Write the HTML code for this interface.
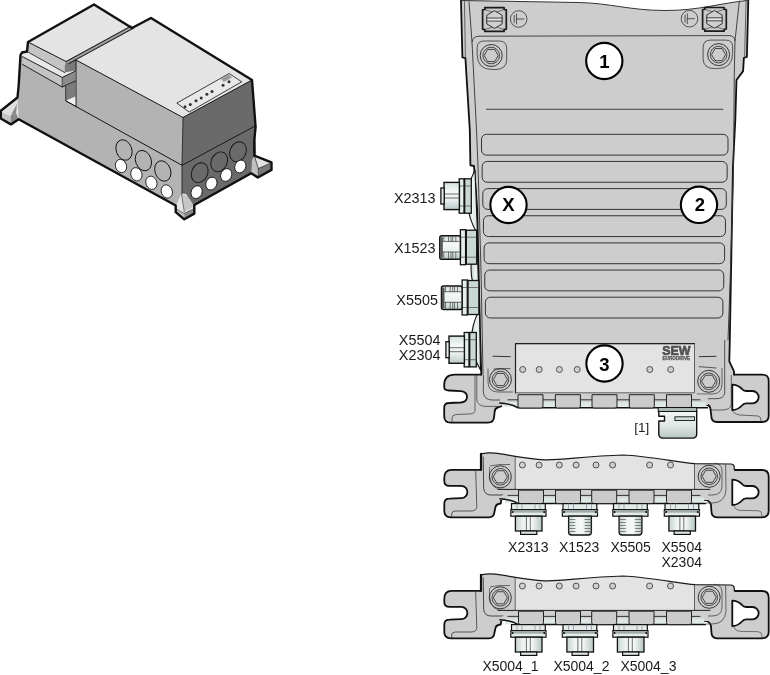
<!DOCTYPE html>
<html><head><meta charset="utf-8"><style>
html,body{margin:0;padding:0;background:#fff;width:770px;height:675px;overflow:hidden;}
svg{display:block;will-change:transform;}
text{font-family:"Liberation Sans",sans-serif;}
</style></head><body>
<svg width="770" height="675" viewBox="0 0 770 675">
<defs><linearGradient id="gcyl" x1="0" y1="0" x2="0" y2="1"><stop offset="0" stop-color="#d3e0dd"/><stop offset="0.35" stop-color="#f4f8f7"/><stop offset="0.65" stop-color="#e9f0ef"/><stop offset="1" stop-color="#b8cac7"/></linearGradient><linearGradient id="gbody" x1="0" y1="0" x2="1" y2="0"><stop offset="0" stop-color="#c5d3d0"/><stop offset="0.3" stop-color="#eef4f3"/><stop offset="0.6" stop-color="#f6f9f8"/><stop offset="1" stop-color="#b5c6c3"/></linearGradient><linearGradient id="glens" x1="0" y1="0" x2="1" y2="0"><stop offset="0" stop-color="#b9cbc8"/><stop offset="0.5" stop-color="#eef4f3"/><stop offset="1" stop-color="#d5e1de"/></linearGradient><linearGradient id="gcon" x1="0" y1="0" x2="0" y2="1"><stop offset="0" stop-color="#f2f6f5"/><stop offset="0.5" stop-color="#e2eae8"/><stop offset="1" stop-color="#b9c8c5"/></linearGradient></defs>
<polygon points="21,52 66,76 66,101 76,107 182,165 182,205 176,206 19,120 16,112" fill="#b3b3b3" stroke="none" stroke-width="1" stroke-linejoin="round" />
<polygon points="182,165 255,126 256,156 252,173 194,205 182,205" fill="#6a6a6a" stroke="none" stroke-width="1" stroke-linejoin="round" />
<polygon points="76,60 183,117.5 182,165 76,107" fill="#b3b3b3" stroke="none" stroke-width="1" stroke-linejoin="round" />
<polygon points="183,117.5 252,80 255,126 182,165" fill="#6a6a6a" stroke="none" stroke-width="1" stroke-linejoin="round" />
<polygon points="76,60 151,18 252,80 183,117.5" fill="#e4e4e4" stroke="none" stroke-width="1" stroke-linejoin="round" />
<polygon points="28,42 94,4.5 132,28 66,61.5" fill="#e4e4e4" stroke="none" stroke-width="1" stroke-linejoin="round" />
<polygon points="28,42 66,61.5 64.6,66 64.6,72.5 27,51.5" fill="#c4c4c4" stroke="none" stroke-width="1" stroke-linejoin="round" />
<polygon points="20.5,55 27,51.5 64.6,72.5 75.5,70 62.2,77.4 22.5,56.7" fill="#e8e8e8" stroke="none" stroke-width="1" stroke-linejoin="round" />
<polygon points="22.5,56.7 62.2,77.4 62.2,87 22.5,64.4" fill="#c4c4c4" stroke="none" stroke-width="1" stroke-linejoin="round" />
<polygon points="62.2,77.4 75.5,71 75.5,81 62.2,87" fill="#8a8a8a" stroke="none" stroke-width="1" stroke-linejoin="round" />
<polygon points="64.6,66 66,61.5 76,56 76,70.5 64.6,72.5" fill="#7a7a7a" stroke="none" stroke-width="1" stroke-linejoin="round" />
<polygon points="65.7,86 75.5,81 75.5,96.4 65.7,101" fill="#7c7c7c" stroke="none" stroke-width="1" stroke-linejoin="round" />
<polygon points="65.7,101 75.5,96.4 75.5,106" fill="#f0f0f0" stroke="none" stroke-width="1" stroke-linejoin="round" />
<polyline points="28,42 66,61.5" fill="none" stroke="#111" stroke-width="1" stroke-linejoin="round" stroke-linecap="round" />
<polyline points="22.5,56.7 62.2,77.4 75.5,71" fill="none" stroke="#111" stroke-width="0.9" stroke-linejoin="round" stroke-linecap="round" />
<polyline points="22.5,64.4 62.2,87 75.5,81" fill="none" stroke="#111" stroke-width="0.9" stroke-linejoin="round" stroke-linecap="round" />
<polyline points="62.2,77.4 62.2,87" fill="none" stroke="#111" stroke-width="0.6" stroke-linejoin="round" stroke-linecap="round" />
<polyline points="27,51.5 64.6,72.5" fill="none" stroke="#111" stroke-width="0.8" stroke-linejoin="round" stroke-linecap="round" />
<polyline points="65.7,86 65.7,101 75.5,106" fill="none" stroke="#111" stroke-width="0.7" stroke-linejoin="round" stroke-linecap="round" />
<polygon points="66,61.5 131,26 134,28 68.5,63.8" fill="#777" stroke="none" stroke-width="1" stroke-linejoin="round" />
<polyline points="66,61.5 131,26" fill="none" stroke="#111" stroke-width="0.9" stroke-linejoin="round" stroke-linecap="round" />
<polyline points="67.3,62.7 132.5,27" fill="none" stroke="#e0e0e0" stroke-width="0.6" stroke-linejoin="round" stroke-linecap="round" />
<polyline points="68.5,63.8 134,28" fill="none" stroke="#111" stroke-width="0.9" stroke-linejoin="round" stroke-linecap="round" />
<polyline points="76,60 76,107" fill="none" stroke="#111" stroke-width="0.9" stroke-linejoin="round" stroke-linecap="round" />
<polyline points="76,60 183,117.5 252,80" fill="none" stroke="#111" stroke-width="1" stroke-linejoin="round" stroke-linecap="round" />
<polyline points="183,117.5 182,165 182,205" fill="none" stroke="#111" stroke-width="0.8" stroke-linejoin="round" stroke-linecap="round" />
<polyline points="66,101 182,165.3 255,126" fill="none" stroke="#111" stroke-width="1" stroke-linejoin="round" stroke-linecap="round" />
<polygon points="176.8,103.1 229.2,73.5 241.7,81.8 189.2,112" fill="#e8e8e8" stroke="#111" stroke-width="0.8" stroke-linejoin="round" />
<circle cx="185" cy="106.8" r="1.5" fill="#333"/>
<circle cx="190.3" cy="104.5" r="1.5" fill="#333"/>
<circle cx="196" cy="100.7" r="1.5" fill="#333"/>
<circle cx="201.2" cy="97.9" r="1.5" fill="#333"/>
<circle cx="206.9" cy="94.3" r="1.5" fill="#333"/>
<circle cx="212" cy="91.5" r="1.5" fill="#333"/>
<circle cx="223" cy="85.2" r="1.5" fill="#333"/>
<circle cx="229" cy="81.8" r="1.5" fill="#333"/>
<polygon points="221,79 229,74.5 232,77.5 224,82" fill="#9a9a9a" stroke="none" stroke-width="1" stroke-linejoin="round" />
<ellipse cx="124" cy="150" rx="7.8" ry="10.5" transform="rotate(-20 124 150)" fill="#b3b3b3" stroke="#111" stroke-width="0.9"/>
<ellipse cx="143.4" cy="160.6" rx="7.8" ry="10.5" transform="rotate(-20 143.4 160.6)" fill="#b3b3b3" stroke="#111" stroke-width="0.9"/>
<ellipse cx="162.8" cy="171" rx="7.8" ry="10.5" transform="rotate(-20 162.8 171)" fill="#b3b3b3" stroke="#111" stroke-width="0.9"/>
<ellipse cx="121" cy="166" rx="5.5" ry="6.8" transform="rotate(-20 121 166)" fill="#fff" stroke="#111" stroke-width="0.8"/>
<ellipse cx="136.4" cy="174.3" rx="5.5" ry="6.8" transform="rotate(-20 136.4 174.3)" fill="#fff" stroke="#111" stroke-width="0.8"/>
<ellipse cx="151.4" cy="182.8" rx="5.5" ry="6.8" transform="rotate(-20 151.4 182.8)" fill="#fff" stroke="#111" stroke-width="0.8"/>
<ellipse cx="166.8" cy="191.5" rx="5.5" ry="6.8" transform="rotate(-20 166.8 191.5)" fill="#fff" stroke="#111" stroke-width="0.8"/>
<ellipse cx="199.7" cy="172.7" rx="8" ry="10.3" transform="rotate(25 199.7 172.7)" fill="#6a6a6a" stroke="#111" stroke-width="0.9"/>
<ellipse cx="219.2" cy="161.8" rx="8" ry="10.3" transform="rotate(25 219.2 161.8)" fill="#6a6a6a" stroke="#111" stroke-width="0.9"/>
<ellipse cx="238" cy="151.7" rx="8" ry="10.3" transform="rotate(25 238 151.7)" fill="#6a6a6a" stroke="#111" stroke-width="0.9"/>
<ellipse cx="196.6" cy="192.2" rx="5.4" ry="6.6" transform="rotate(25 196.6 192.2)" fill="#fff" stroke="#111" stroke-width="0.8"/>
<ellipse cx="211.4" cy="183.6" rx="5.4" ry="6.6" transform="rotate(25 211.4 183.6)" fill="#fff" stroke="#111" stroke-width="0.8"/>
<ellipse cx="226.2" cy="175" rx="5.4" ry="6.6" transform="rotate(25 226.2 175)" fill="#fff" stroke="#111" stroke-width="0.8"/>
<ellipse cx="240.3" cy="166.5" rx="5.4" ry="6.6" transform="rotate(25 240.3 166.5)" fill="#fff" stroke="#111" stroke-width="0.8"/>
<polygon points="17.5,97.5 0.8,110.7 0.8,118.5 10.9,124.4 18.7,119.3" fill="#e0e0e0" stroke="none" stroke-width="1" stroke-linejoin="round" />
<polygon points="2,112.3 10.5,116.2 10.9,124.4 0.8,118.5" fill="#c4c4c4" stroke="none" stroke-width="1" stroke-linejoin="round" />
<polygon points="10.5,116.2 16,113 18.7,119.3 10.9,124.4" fill="#888" stroke="none" stroke-width="1" stroke-linejoin="round" />
<polygon points="17,103.7 10.5,116.2 16,113" fill="#888" stroke="none" stroke-width="1" stroke-linejoin="round" />
<polygon points="175.7,206.4 181.4,193.6 186,194 194.3,206.4 194.3,213.6 184.3,219.3 175.7,212.1" fill="#e6e6e6" stroke="none" stroke-width="1" stroke-linejoin="round" />
<polygon points="181.4,193.6 184.3,212.1 194.3,206.4 187,196" fill="#c6c6c6" stroke="none" stroke-width="1" stroke-linejoin="round" />
<polyline points="181.4,193.6 184.3,212.1" fill="none" stroke="#333" stroke-width="0.6" stroke-linejoin="round" stroke-linecap="round" />
<polygon points="175.7,208.5 184.3,213.5 184.3,219.3 175.7,212.1" fill="#bdbdbd" stroke="none" stroke-width="1" stroke-linejoin="round" />
<polygon points="184.3,213.5 194.3,208.5 194.3,213.6 184.3,219.3" fill="#8a8a8a" stroke="none" stroke-width="1" stroke-linejoin="round" />
<polyline points="175.7,208.5 184.3,213.5 194.3,208.5" fill="none" stroke="#333" stroke-width="0.6" stroke-linejoin="round" stroke-linecap="round" />
<polygon points="254.3,155.7 271.5,162.3 271.5,169.9 257.8,177.5 251.2,173.2 252,160" fill="#c0c0c0" stroke="none" stroke-width="1" stroke-linejoin="round" />
<polygon points="254.5,156.2 269.5,163.5 258.3,168.5" fill="#e2e2e2" stroke="none" stroke-width="1" stroke-linejoin="round" />
<polygon points="258.3,168.5 270,163.5 271.5,169.5 258.3,176.8" fill="#7a7a7a" stroke="none" stroke-width="1" stroke-linejoin="round" />
<polyline points="254.5,156.2 258.3,168.5 270,163.5" fill="none" stroke="#222" stroke-width="0.7" stroke-linejoin="round" stroke-linecap="round" />
<polyline points="258.3,168.5 258.3,177" fill="none" stroke="#222" stroke-width="0.6" stroke-linejoin="round" stroke-linecap="round" />
<polyline points="94,4.5 132,28 151,18 252,80 255.6,127 254.3,140 254.3,155.7 271.5,162.3 271.5,169.9 257.8,177.5 251.2,173.2 194.3,205 194.3,213.6 184.3,219.3 175.7,212.1 175.7,205.5 18.7,119.3 10.9,124.4 0.8,118.5 0.8,110.7 17.5,97.5 18.7,85 20.5,55 22,52.5 27,51.5 28,42 94,4.5" fill="none" stroke="#111" stroke-width="2.4" stroke-linejoin="round" stroke-linecap="round" />
<path d="M461,0.5 L462.4,57.4 L465.4,58.1 L469.8,130 L470.4,165.3 L474,166 L477.2,210 L479.9,330 L481.3,374.6 L451.5,374.6 L444.2,382 L444.2,386.8 L448.2,390.5 L463,391.7 L467,396.8 L463,402.3 L448.2,403 L444.2,408 L444.2,417.8 L450.7,422.7 L489.8,422.7 L493.9,417.8 L494.7,411.3 L498,408 L501.2,405.6 L708.7,404 L710,406.7 L711.3,417.3 L716,422 L764,422 L768.7,417.3 L768.7,380 L764,374.7 L734,374.7 L734,371.3 L729.3,361.3 L729.8,340 L733,166 L735.3,120 L736.5,80 L743.1,71.1 L743.9,57.8 L746.9,57 L748.3,0.3 C720,3 700,10.5 665,10.5 C630,10.5 610,3 578,2.5 L461,0.5 Z" fill="#cdcdcd" stroke="none" stroke-width="1" stroke-linejoin="round" />
<polyline points="461,0.5 462.4,57.4 465.4,58.1 469.8,130 470.4,165.3 474,166 477.2,210 479.9,330 481.3,374.6" fill="none" stroke="#111" stroke-width="1.8" stroke-linejoin="round" stroke-linecap="round" />
<polyline points="748.3,0.3 746.9,57 743.9,57.8 743.1,71.1 736.5,80 735.3,120 733,166 729.8,340 729.3,361.3 734,371.3 734,374.7" fill="none" stroke="#111" stroke-width="1.8" stroke-linejoin="round" stroke-linecap="round" />
<path d="M461,0.5 L578,2.5 C610,3 630,10.5 665,10.5 C700,10.5 720,3 749,0.3" fill="none" stroke="#333" stroke-width="1" stroke-linejoin="round" />
<polyline points="464.4,0.5 465.4,57.4" fill="none" stroke="#333" stroke-width="0.7" stroke-linejoin="round" stroke-linecap="round" />
<polyline points="746.1,0.5 744.6,57" fill="none" stroke="#333" stroke-width="0.7" stroke-linejoin="round" stroke-linecap="round" />
<path d="M469,1.5 L472,42 Q473,36.2 479,36.2 L729,35.6 Q734.5,35.6 735,40.7 L739.4,0.7" fill="none" stroke="#333" stroke-width="0.9" stroke-linejoin="round" />
<polyline points="472,42 476.5,130 478,166 481,270 483,374" fill="none" stroke="#333" stroke-width="0.9" stroke-linejoin="round" stroke-linecap="round" />
<polyline points="735,40.7 734.3,74 733.5,166 730.5,270 728,340" fill="none" stroke="#333" stroke-width="0.9" stroke-linejoin="round" stroke-linecap="round" />
<polyline points="486.4,109.3 723,109.3" fill="none" stroke="#444" stroke-width="1" stroke-linejoin="round" stroke-linecap="round" />
<rect x="481.5" y="134.3" width="246.5" height="20.8" rx="5" ry="5" fill="none" stroke="#333" stroke-width="1"/>
<rect x="482.15" y="161.45000000000002" width="245.0" height="20.8" rx="5" ry="5" fill="none" stroke="#333" stroke-width="1"/>
<rect x="482.8" y="188.60000000000002" width="243.49999999999994" height="20.8" rx="5" ry="5" fill="none" stroke="#333" stroke-width="1"/>
<rect x="483.45" y="215.75" width="242.00000000000006" height="20.8" rx="5" ry="5" fill="none" stroke="#333" stroke-width="1"/>
<rect x="484.1" y="242.9" width="240.5" height="20.8" rx="5" ry="5" fill="none" stroke="#333" stroke-width="1"/>
<rect x="484.75" y="270.05" width="239.0" height="20.8" rx="5" ry="5" fill="none" stroke="#333" stroke-width="1"/>
<rect x="485.4" y="297.2" width="237.5" height="20.8" rx="5" ry="5" fill="none" stroke="#333" stroke-width="1"/>
<path d="M484.8,7.7 L504.1,7.7 L504.1,9.46 L506.3,9.9 L506.3,29.2 L504.1,29.639999999999997 L504.1,31.4 L484.8,31.4 L484.8,29.639999999999997 L482.6,29.2 L482.6,9.9 L484.8,9.46 Z" fill="#c8c8c8" stroke="#1a1a1a" stroke-width="1.7" stroke-linejoin="round" />
<polyline points="485.3,9.7 497.45000000000005,13.7" fill="none" stroke="#333" stroke-width="0.6" stroke-linejoin="round" stroke-linecap="round" />
<polyline points="503.6,9.7 491.45000000000005,13.7" fill="none" stroke="#333" stroke-width="0.6" stroke-linejoin="round" stroke-linecap="round" />
<polyline points="485.3,29.4 497.45000000000005,25.4" fill="none" stroke="#333" stroke-width="0.6" stroke-linejoin="round" stroke-linecap="round" />
<polyline points="503.6,29.4 491.45000000000005,25.4" fill="none" stroke="#333" stroke-width="0.6" stroke-linejoin="round" stroke-linecap="round" />
<path d="M486.8,15.2 L494.45000000000005,10.7 L502.1,15.2 L502.1,23.9 L494.45000000000005,28.4 L486.8,23.9 Z" fill="#d0d0d0" stroke="#222" stroke-width="0.9" stroke-linejoin="round" />
<rect x="486.8" y="18.05" width="15.299999999999999" height="3" fill="#e6e6e6" stroke="#222" stroke-width="0.8"/>
<path d="M704.8000000000001,7.5 L724.1,7.5 L724.1,9.26 L726.3000000000001,9.7 L726.3000000000001,29.0 L724.1,29.439999999999998 L724.1,31.2 L704.8000000000001,31.2 L704.8000000000001,29.439999999999998 L702.6,29.0 L702.6,9.7 L704.8000000000001,9.26 Z" fill="#c8c8c8" stroke="#1a1a1a" stroke-width="1.7" stroke-linejoin="round" />
<polyline points="705.3000000000001,9.5 717.45,13.5" fill="none" stroke="#333" stroke-width="0.6" stroke-linejoin="round" stroke-linecap="round" />
<polyline points="723.6,9.5 711.45,13.5" fill="none" stroke="#333" stroke-width="0.6" stroke-linejoin="round" stroke-linecap="round" />
<polyline points="705.3000000000001,29.2 717.45,25.2" fill="none" stroke="#333" stroke-width="0.6" stroke-linejoin="round" stroke-linecap="round" />
<polyline points="723.6,29.2 711.45,25.2" fill="none" stroke="#333" stroke-width="0.6" stroke-linejoin="round" stroke-linecap="round" />
<path d="M706.8000000000001,15.0 L714.45,10.5 L722.1,15.0 L722.1,23.7 L714.45,28.2 L706.8000000000001,23.7 Z" fill="#d0d0d0" stroke="#222" stroke-width="0.9" stroke-linejoin="round" />
<rect x="706.8000000000001" y="17.85" width="15.299999999999999" height="3" fill="#e6e6e6" stroke="#222" stroke-width="0.8"/>
<circle cx="518.7" cy="19" r="8.3" fill="none" stroke="#333" stroke-width="0.8"/>
<polyline points="514.2,15.5 514.2,22.5" fill="none" stroke="#333" stroke-width="0.8" stroke-linejoin="round" stroke-linecap="round" />
<polyline points="516.5,14 516.5,24" fill="none" stroke="#333" stroke-width="0.8" stroke-linejoin="round" stroke-linecap="round" />
<polyline points="516.5,19 523.7,19" fill="none" stroke="#333" stroke-width="0.8" stroke-linejoin="round" stroke-linecap="round" />
<circle cx="689.5" cy="18.7" r="8.3" fill="none" stroke="#333" stroke-width="0.8"/>
<polyline points="685.0,15.2 685.0,22.2" fill="none" stroke="#333" stroke-width="0.8" stroke-linejoin="round" stroke-linecap="round" />
<polyline points="687.3,13.7 687.3,23.7" fill="none" stroke="#333" stroke-width="0.8" stroke-linejoin="round" stroke-linecap="round" />
<polyline points="687.3,18.7 694.5,18.7" fill="none" stroke="#333" stroke-width="0.8" stroke-linejoin="round" stroke-linecap="round" />
<path d="M477.2,47.5 Q477.2,41.0 484.2,41.0 L499.2,41.0 Q506.7,41.0 506.7,48.5 L506.7,59.5 Q506.7,69.5 495.2,69.5 L492.2,69.5 Q477.2,69.5 477.2,54.5 Z" fill="none" stroke="#333" stroke-width="0.8" stroke-linejoin="round" />
<circle cx="491.2" cy="55.5" r="11" fill="none" stroke="#222" stroke-width="0.9"/>
<circle cx="491.2" cy="55.5" r="8.3" fill="none" stroke="#222" stroke-width="0.8"/>
<polygon points="498.2,55.5 494.7,61.56 487.7,61.56 484.2,55.5 487.7,49.44 494.7,49.44" fill="none" stroke="#222" stroke-width="0.8" stroke-linejoin="round" />
<path d="M732.6,46.6 Q732.6,40.1 725.6,40.1 L710.6,40.1 Q703.1,40.1 703.1,47.6 L703.1,58.6 Q703.1,68.6 714.6,68.6 L717.6,68.6 Q732.6,68.6 732.6,53.6 Z" fill="none" stroke="#333" stroke-width="0.8" stroke-linejoin="round" />
<circle cx="718.6" cy="54.6" r="11" fill="none" stroke="#222" stroke-width="0.9"/>
<circle cx="718.6" cy="54.6" r="8.3" fill="none" stroke="#222" stroke-width="0.8"/>
<polygon points="725.6,54.6 722.1,60.66 715.1,60.66 711.6,54.6 715.1,48.54 722.1,48.54" fill="none" stroke="#222" stroke-width="0.8" stroke-linejoin="round" />
<path d="M483.5,375 L483.3,391.7 Q484,400 492,400 L500,400" fill="none" stroke="#333" stroke-width="0.8" stroke-linejoin="round" />
<path d="M476.8,375 L476.8,400 Q478,406.4 486,406.4 L499.6,406.4" fill="none" stroke="#333" stroke-width="0.7" stroke-linejoin="round" />
<path d="M724.7,340 L724.7,393.3 Q724,398.7 716,398.7 L700,398.7" fill="none" stroke="#333" stroke-width="0.8" stroke-linejoin="round" />
<path d="M731.3,375 L731.3,404 Q731,410 722,410 L711,410" fill="none" stroke="#333" stroke-width="0.7" stroke-linejoin="round" />
<path d="M475,375.4 L475,411.3 Q474,414 468,414 L456,414.5 Q452,415 452,418 L452,422" fill="none" stroke="#333" stroke-width="0.7" stroke-linejoin="round" />
<path d="M732,409.3 Q733,414 740,415 L758,416 Q761,416.5 761,420 L761,422" fill="none" stroke="#333" stroke-width="0.7" stroke-linejoin="round" />
<path d="M481.3,374.6 L455,374.6 Q444.2,374.6 444.2,385 L444.2,386.8 Q444.2,390.5 449,390.5 L461,391.2 Q467,392 467,396.8 Q467,402 461,402.5 L449,403 Q444.2,403 444.2,408 L444.2,416 Q444.2,422.7 451,422.7 L488,422.7 Q494,422.7 494.2,416 L494.7,411.3 Q495,408 498,407.5 L502,406" fill="none" stroke="#111" stroke-width="1.8" stroke-linejoin="round" />
<path d="M734,374.7 L762,374.7 Q768.7,374.7 768.7,381 L768.7,416 Q768.7,422 762,422 L717,422 Q711.3,422 711.3,416 L710.5,409 Q710,405 706,404.5 L698,403" fill="none" stroke="#111" stroke-width="1.8" stroke-linejoin="round" />
<path d="M732.3,384.7 C737,384.7 739.5,386.5 742,389 Q743.5,391 746,391 L752.5,391 A6.15,6.15 0 0 1 752.5,403.3 L746,403.3 Q743.5,403.3 742,405.5 C739.5,408.2 737,410 732.3,410 Z" fill="#fff" stroke="#111" stroke-width="1.8" stroke-linejoin="round" />
<circle cx="500.4" cy="379.5" r="11" fill="none" stroke="#222" stroke-width="0.9"/>
<circle cx="500.4" cy="379.5" r="8.3" fill="none" stroke="#222" stroke-width="0.8"/>
<polygon points="507.4,379.5 503.9,385.56 496.9,385.56 493.4,379.5 496.9,373.44 503.9,373.44" fill="none" stroke="#222" stroke-width="0.8" stroke-linejoin="round" />
<circle cx="708.7" cy="381.3" r="11" fill="none" stroke="#222" stroke-width="0.9"/>
<circle cx="708.7" cy="381.3" r="8.3" fill="none" stroke="#222" stroke-width="0.8"/>
<polygon points="715.7,381.3 712.2,387.36 705.2,387.36 701.7,381.3 705.2,375.24 712.2,375.24" fill="none" stroke="#222" stroke-width="0.8" stroke-linejoin="round" />
<path d="M488,368.6 L488,382 Q488,392 498,392 L513,392" fill="none" stroke="#333" stroke-width="0.7" stroke-linejoin="round" />
<path d="M722,368 L722,384 Q722,394 712,394 L697,394" fill="none" stroke="#333" stroke-width="0.7" stroke-linejoin="round" />
<polyline points="493,356.2 510.2,356.7" fill="none" stroke="#333" stroke-width="1" stroke-linejoin="round" stroke-linecap="round" />
<polyline points="494,369 510,368.6" fill="none" stroke="#333" stroke-width="0.8" stroke-linejoin="round" stroke-linecap="round" />
<polyline points="699.3,356.7 716,356.3" fill="none" stroke="#333" stroke-width="1" stroke-linejoin="round" stroke-linecap="round" />
<polyline points="699.3,366.7 716,368" fill="none" stroke="#333" stroke-width="0.8" stroke-linejoin="round" stroke-linecap="round" />
<path d="M500,403 Q506,396.7 510,394.7 L708,394.7 L708,405 L500,405 Z" fill="#cfcfcf" stroke="none" stroke-width="1" stroke-linejoin="round" />
<polyline points="508,399.8 700,399.8" fill="none" stroke="#222" stroke-width="0.9" stroke-linejoin="round" stroke-linecap="round" />
<path d="M505,402 L518,402 L518,407.6 Q511.5,405.5 505,407.6 Z" fill="#dde8e6" stroke="none" stroke-width="1" stroke-linejoin="round" />
<path d="M543,402 L555.4,402 L555.4,407.6 Q549.2,405.5 543,407.6 Z" fill="#dde8e6" stroke="none" stroke-width="1" stroke-linejoin="round" />
<path d="M579.6,402 L592,402 L592,407.6 Q585.8,405.5 579.6,407.6 Z" fill="#dde8e6" stroke="none" stroke-width="1" stroke-linejoin="round" />
<path d="M617,402 L629.5,402 L629.5,407.6 Q623.25,405.5 617,407.6 Z" fill="#dde8e6" stroke="none" stroke-width="1" stroke-linejoin="round" />
<path d="M654.5,402 L667,402 L667,407.6 Q660.75,405.5 654.5,407.6 Z" fill="#dde8e6" stroke="none" stroke-width="1" stroke-linejoin="round" />
<path d="M692,402 L706,402 L706,407.6 Q699.0,405.5 692,407.6 Z" fill="#dde8e6" stroke="none" stroke-width="1" stroke-linejoin="round" />
<path d="M499.3,403 Q510,403.3 518,407.8 L708,407.8" fill="none" stroke="#111" stroke-width="1.6" stroke-linejoin="round" />
<polygon points="515.5,343.6 694.5,343.6 694.5,392.8 515.5,392.8" fill="#e3e3e3" stroke="#555" stroke-width="0.9" stroke-linejoin="round" />
<polyline points="515.5,392.8 515.5,343.6 694.5,343.6" fill="none" stroke="#222" stroke-width="1.2" stroke-linejoin="round" stroke-linecap="round" />
<circle cx="522.7" cy="369.5" r="3" fill="#cfcfcf" stroke="#444" stroke-width="0.9"/>
<circle cx="539.2" cy="369.5" r="3" fill="#cfcfcf" stroke="#444" stroke-width="0.9"/>
<circle cx="559.4" cy="369.5" r="3" fill="#cfcfcf" stroke="#444" stroke-width="0.9"/>
<circle cx="577.2" cy="369.5" r="3" fill="#cfcfcf" stroke="#444" stroke-width="0.9"/>
<circle cx="649.8" cy="369.5" r="3" fill="#cfcfcf" stroke="#444" stroke-width="0.9"/>
<circle cx="670.7" cy="369.5" r="3" fill="#cfcfcf" stroke="#444" stroke-width="0.9"/>
<text x="662.3" y="354.9" font-family="Liberation Sans" font-weight="bold" font-size="13.2" fill="#505050" stroke="#505050" stroke-width="0.7" textLength="28.2" lengthAdjust="spacingAndGlyphs">SEW</text>
<text x="662.5" y="360.3" font-family="Liberation Sans" font-weight="bold" font-size="4.6" fill="#505050" stroke="#505050" stroke-width="0.25" textLength="27.6" lengthAdjust="spacingAndGlyphs">EURODRIVE</text>
<path d="M518,394.7 L543,394.7 L543,406 Q543,408 541,408 L520,408 Q518,408 518,406 Z" fill="#cbcbcb" stroke="#222" stroke-width="1" stroke-linejoin="round" />
<path d="M555.4,394.7 L580.4,394.7 L580.4,406 Q580.4,408 578.4,408 L557.4,408 Q555.4,408 555.4,406 Z" fill="#cbcbcb" stroke="#222" stroke-width="1" stroke-linejoin="round" />
<path d="M592,394.7 L617,394.7 L617,406 Q617,408 615,408 L594,408 Q592,408 592,406 Z" fill="#cbcbcb" stroke="#222" stroke-width="1" stroke-linejoin="round" />
<path d="M629.3,394.7 L654.3,394.7 L654.3,406 Q654.3,408 652.3,408 L631.3,408 Q629.3,408 629.3,406 Z" fill="#cbcbcb" stroke="#222" stroke-width="1" stroke-linejoin="round" />
<path d="M666.5,394.7 L691.5,394.7 L691.5,406 Q691.5,408 689.5,408 L668.5,408 Q666.5,408 666.5,406 Z" fill="#cbcbcb" stroke="#222" stroke-width="1" stroke-linejoin="round" />
<path d="M658.8,410.6 L696.7,410.6 L696.7,434 Q696.7,438.1 692.5,438.1 L663,438.1 Q658.8,438.1 658.8,434 L658.8,421 L664.5,421 L664.5,416.3 L658.8,416.3 Z" fill="url(#gcon)" stroke="#111" stroke-width="1.4" stroke-linejoin="round" />
<rect x="658.2" y="407.5" width="38.5" height="4" fill="#aab8b6" stroke="#111" stroke-width="1"/>
<rect x="674.9" y="416.8" width="19.7" height="3.7" fill="#cfdcda" stroke="#111" stroke-width="0.9"/>
<text x="634.3" y="432" font-family="Liberation Sans" font-size="13.5" fill="#222">[1]</text>
<path d="M475,170 Q458.5,202.0 477.5,234 Z" fill="url(#glens)" stroke="#111" stroke-width="1.1" stroke-linejoin="round" />
<path d="M477,240 Q464,270.0 479,300 Z" fill="url(#glens)" stroke="#111" stroke-width="1.1" stroke-linejoin="round" />
<path d="M479.5,310 Q463,340.0 480.5,370 Z" fill="url(#glens)" stroke="#111" stroke-width="1.1" stroke-linejoin="round" />
<rect x="464.7" y="178.8" width="6.6" height="34.4" fill="#c9d8d5" stroke="#111" stroke-width="1.3"/>
<polyline points="464.7,186 471.3,186" fill="none" stroke="#333" stroke-width="0.6" stroke-linejoin="round" stroke-linecap="round" />
<polyline points="464.7,206 471.3,206" fill="none" stroke="#333" stroke-width="0.6" stroke-linejoin="round" stroke-linecap="round" />
<rect x="459.2" y="178.8" width="4.8" height="34.4" fill="#e4eeec" stroke="#111" stroke-width="1.3"/>
<polyline points="459.2,186 464,186" fill="none" stroke="#333" stroke-width="0.6" stroke-linejoin="round" stroke-linecap="round" />
<polyline points="459.2,206 464,206" fill="none" stroke="#333" stroke-width="0.6" stroke-linejoin="round" stroke-linecap="round" />
<rect x="444" y="182.4" width="15.4" height="27.2" fill="url(#gcyl)" stroke="#111" stroke-width="1.4"/>
<polyline points="444,194 459.4,194" fill="none" stroke="#333" stroke-width="0.7" stroke-linejoin="round" stroke-linecap="round" />
<polyline points="444,198 459.4,198" fill="none" stroke="#333" stroke-width="0.7" stroke-linejoin="round" stroke-linecap="round" />
<rect x="440.9" y="188" width="3.3" height="16" fill="#e4eeec" stroke="#111" stroke-width="1.3"/>
<rect x="466.3" y="230.2" width="10.4" height="34" fill="#c9d8d5" stroke="#111" stroke-width="1.3"/>
<polyline points="466.3,237.2 476.7,237.2" fill="none" stroke="#333" stroke-width="0.6" stroke-linejoin="round" stroke-linecap="round" />
<polyline points="466.3,257.2 476.7,257.2" fill="none" stroke="#333" stroke-width="0.6" stroke-linejoin="round" stroke-linecap="round" />
<rect x="460.4" y="229.7" width="5.2" height="35" fill="#e4eeec" stroke="#111" stroke-width="1.3"/>
<polyline points="460.4,237.2 465.6,237.2" fill="none" stroke="#333" stroke-width="0.6" stroke-linejoin="round" stroke-linecap="round" />
<polyline points="460.4,257.2 465.6,257.2" fill="none" stroke="#333" stroke-width="0.6" stroke-linejoin="round" stroke-linecap="round" />
<rect x="439.8" y="235.7" width="20.6" height="23.5" rx="2" fill="url(#gcyl)" stroke="#111" stroke-width="1.5"/>
<rect x="440.2" y="237.2" width="2.6" height="20.5" fill="#555"/>
<polyline points="442.8,241.39999999999998 459,241.39999999999998" fill="none" stroke="#444" stroke-width="0.8" stroke-linejoin="round" stroke-linecap="round" />
<polyline points="442.8,252.0 459,252.0" fill="none" stroke="#444" stroke-width="0.8" stroke-linejoin="round" stroke-linecap="round" />
<polyline points="443.8,236.2 443.8,241.2" fill="none" stroke="#444" stroke-width="0.7" stroke-linejoin="round" stroke-linecap="round" />
<polyline points="443.8,252.2 443.8,258.2" fill="none" stroke="#444" stroke-width="0.7" stroke-linejoin="round" stroke-linecap="round" />
<polyline points="448.5,236.2 448.5,241.2" fill="none" stroke="#444" stroke-width="0.7" stroke-linejoin="round" stroke-linecap="round" />
<polyline points="448.5,252.2 448.5,258.2" fill="none" stroke="#444" stroke-width="0.7" stroke-linejoin="round" stroke-linecap="round" />
<polyline points="451,236.2 451,241.2" fill="none" stroke="#444" stroke-width="0.7" stroke-linejoin="round" stroke-linecap="round" />
<polyline points="451,252.2 451,258.2" fill="none" stroke="#444" stroke-width="0.7" stroke-linejoin="round" stroke-linecap="round" />
<polyline points="452.8,236.2 452.8,241.2" fill="none" stroke="#444" stroke-width="0.7" stroke-linejoin="round" stroke-linecap="round" />
<polyline points="452.8,252.2 452.8,258.2" fill="none" stroke="#444" stroke-width="0.7" stroke-linejoin="round" stroke-linecap="round" />
<polyline points="455.8,236.2 455.8,241.2" fill="none" stroke="#444" stroke-width="0.7" stroke-linejoin="round" stroke-linecap="round" />
<polyline points="455.8,252.2 455.8,258.2" fill="none" stroke="#444" stroke-width="0.7" stroke-linejoin="round" stroke-linecap="round" />
<rect x="468.0" y="280.5" width="10.91" height="34" fill="#c9d8d5" stroke="#111" stroke-width="1.3"/>
<polyline points="468.0,287.5 478.4,287.5" fill="none" stroke="#333" stroke-width="0.6" stroke-linejoin="round" stroke-linecap="round" />
<polyline points="468.0,307.5 478.4,307.5" fill="none" stroke="#333" stroke-width="0.6" stroke-linejoin="round" stroke-linecap="round" />
<rect x="462.09999999999997" y="280.0" width="5.2" height="35" fill="#e4eeec" stroke="#111" stroke-width="1.3"/>
<polyline points="462.09999999999997,287.5 467.3,287.5" fill="none" stroke="#333" stroke-width="0.6" stroke-linejoin="round" stroke-linecap="round" />
<polyline points="462.09999999999997,307.5 467.3,307.5" fill="none" stroke="#333" stroke-width="0.6" stroke-linejoin="round" stroke-linecap="round" />
<rect x="441.5" y="286.0" width="20.6" height="23.5" rx="2" fill="url(#gcyl)" stroke="#111" stroke-width="1.5"/>
<rect x="441.9" y="287.5" width="2.6" height="20.5" fill="#555"/>
<polyline points="444.5,291.7 460.7,291.7" fill="none" stroke="#444" stroke-width="0.8" stroke-linejoin="round" stroke-linecap="round" />
<polyline points="444.5,302.3 460.7,302.3" fill="none" stroke="#444" stroke-width="0.8" stroke-linejoin="round" stroke-linecap="round" />
<polyline points="445.5,286.5 445.5,291.5" fill="none" stroke="#444" stroke-width="0.7" stroke-linejoin="round" stroke-linecap="round" />
<polyline points="445.5,302.5 445.5,308.5" fill="none" stroke="#444" stroke-width="0.7" stroke-linejoin="round" stroke-linecap="round" />
<polyline points="450.2,286.5 450.2,291.5" fill="none" stroke="#444" stroke-width="0.7" stroke-linejoin="round" stroke-linecap="round" />
<polyline points="450.2,302.5 450.2,308.5" fill="none" stroke="#444" stroke-width="0.7" stroke-linejoin="round" stroke-linecap="round" />
<polyline points="452.7,286.5 452.7,291.5" fill="none" stroke="#444" stroke-width="0.7" stroke-linejoin="round" stroke-linecap="round" />
<polyline points="452.7,302.5 452.7,308.5" fill="none" stroke="#444" stroke-width="0.7" stroke-linejoin="round" stroke-linecap="round" />
<polyline points="454.5,286.5 454.5,291.5" fill="none" stroke="#444" stroke-width="0.7" stroke-linejoin="round" stroke-linecap="round" />
<polyline points="454.5,302.5 454.5,308.5" fill="none" stroke="#444" stroke-width="0.7" stroke-linejoin="round" stroke-linecap="round" />
<polyline points="457.5,286.5 457.5,291.5" fill="none" stroke="#444" stroke-width="0.7" stroke-linejoin="round" stroke-linecap="round" />
<polyline points="457.5,302.5 457.5,308.5" fill="none" stroke="#444" stroke-width="0.7" stroke-linejoin="round" stroke-linecap="round" />
<rect x="469.7" y="332.5" width="6.6" height="34.4" fill="#c9d8d5" stroke="#111" stroke-width="1.3"/>
<polyline points="469.7,339.7 476.3,339.7" fill="none" stroke="#333" stroke-width="0.6" stroke-linejoin="round" stroke-linecap="round" />
<polyline points="469.7,359.7 476.3,359.7" fill="none" stroke="#333" stroke-width="0.6" stroke-linejoin="round" stroke-linecap="round" />
<rect x="464.2" y="332.5" width="4.8" height="34.4" fill="#e4eeec" stroke="#111" stroke-width="1.3"/>
<polyline points="464.2,339.7 469,339.7" fill="none" stroke="#333" stroke-width="0.6" stroke-linejoin="round" stroke-linecap="round" />
<polyline points="464.2,359.7 469,359.7" fill="none" stroke="#333" stroke-width="0.6" stroke-linejoin="round" stroke-linecap="round" />
<rect x="449" y="336.09999999999997" width="15.4" height="27.2" fill="url(#gcyl)" stroke="#111" stroke-width="1.4"/>
<polyline points="449,347.7 464.4,347.7" fill="none" stroke="#333" stroke-width="0.7" stroke-linejoin="round" stroke-linecap="round" />
<polyline points="449,351.7 464.4,351.7" fill="none" stroke="#333" stroke-width="0.7" stroke-linejoin="round" stroke-linecap="round" />
<rect x="445.9" y="341.7" width="3.3" height="16" fill="#e4eeec" stroke="#111" stroke-width="1.3"/>
<text x="394" y="202.6" text-anchor="start" font-family="Liberation Sans" font-size="14.4" fill="#1a1a1a">X2313</text>
<text x="394" y="253" text-anchor="start" font-family="Liberation Sans" font-size="14.4" fill="#1a1a1a">X1523</text>
<text x="396.3" y="304.5" text-anchor="start" font-family="Liberation Sans" font-size="14.4" fill="#1a1a1a">X5505</text>
<text x="398.8" y="345.2" text-anchor="start" font-family="Liberation Sans" font-size="14.4" fill="#1a1a1a">X5504</text>
<text x="398.8" y="360.4" text-anchor="start" font-family="Liberation Sans" font-size="14.4" fill="#1a1a1a">X2304</text>
<g transform="translate(0,0)">
<path d="M481,453.9 C485,453 490,452.6 495,453.2 C505,454.2 525,458.5 544.6,459.8 C560,460.6 585,456 623,455 C650,456 680,463 695,463.7 L731.4,464 Q734.3,464.5 734.3,467.5 L734.3,470 L762,470 Q768.7,470 768.7,476.5 L768.7,511 Q768.7,517.3 762,517.3 L717,517.3 Q711.4,517.3 711.4,511 L711,505 Q710,501 706,500 L700,499 L514.7,498.1 L501.3,499.2 L500.8,503.5 Q496,504 495.5,507 L494.4,512 Q494,517.3 489,517.3 L450.7,517.3 Q444.3,517.3 444.3,511 L444.3,503.5 Q444.3,498.7 449.6,498.7 L461.3,498.1 A6.1,6.1 0 0 0 461.3,485.9 L449.6,485.9 Q444.3,485.9 444.3,481 L444.3,477.9 Q444.3,469.9 451.7,469.9 L481,469.9 Z" fill="#cdcdcd" stroke="none" stroke-width="1" stroke-linejoin="round" />
<path d="M515.2,457 C525,458.6 535,459.4 544.6,459.8 C560,460.6 585,456 623,455 C650,456 680,463 694.5,463.7 L694.5,489.4 L515.2,489.4 Z" fill="#e3e3e3" stroke="none" stroke-width="1" stroke-linejoin="round" />
<polyline points="515.2,457 515.2,489.4" fill="none" stroke="#444" stroke-width="0.8" stroke-linejoin="round" stroke-linecap="round" />
<polyline points="694.5,463.7 694.5,489.4" fill="none" stroke="#444" stroke-width="0.8" stroke-linejoin="round" stroke-linecap="round" />
<path d="M481,453.9 C485,453 490,452.6 495,453.2 C505,454.2 525,458.5 544.6,459.8 C560,460.6 585,456 623,455 C650,456 680,463 695,463.7 L731.4,464 Q734.3,464.5 734.3,467.5 L734.3,470 " fill="none" stroke="#1a1a1a" stroke-width="1.2" stroke-linejoin="round" />
<path d="M734.3,470 L762,470 Q768.7,470 768.7,476.5 L768.7,511 Q768.7,517.3 762,517.3 L717,517.3 Q711.4,517.3 711.4,511 L711,505 Q710,501 706,500 L700,499 " fill="none" stroke="#111" stroke-width="1.8" stroke-linejoin="round" />
<path d="M700,499 L514.7,498.1 L501.3,499.2 L500.8,503.5 Q496,504 495.5,507 L494.4,512 Q494,517.3 489,517.3 L450.7,517.3 Q444.3,517.3 444.3,511 L444.3,503.5 Q444.3,498.7 449.6,498.7 L461.3,498.1 A6.1,6.1 0 0 0 461.3,485.9 L449.6,485.9 Q444.3,485.9 444.3,481 L444.3,477.9 Q444.3,469.9 451.7,469.9 L481,469.9" fill="none" stroke="#111" stroke-width="1.8" stroke-linejoin="round" />
<polyline points="481,453.9 481,469.9" fill="none" stroke="#111" stroke-width="2.2" stroke-linejoin="round" stroke-linecap="round" />
<path d="M732.3,479.7 C737,479.7 739.5,481.5 742,484 Q743.5,486 746,486 L752.5,486 A6.15,6.15 0 0 1 752.5,498.3 L746,498.3 Q743.5,498.3 742,500.5 C739.5,503.2 737,505 732.3,505 Z" fill="#fff" stroke="#111" stroke-width="1.8" stroke-linejoin="round" />
<path d="M483.2,456.5 L483.7,488.5 Q484.5,495 491,495 L516.8,495" fill="none" stroke="#222" stroke-width="0.8" stroke-linejoin="round" />
<path d="M475.7,471 L476.8,506.7 Q476.5,511 471,511 L455,511 Q451.7,511.3 451.7,514 L451.7,517" fill="none" stroke="#222" stroke-width="0.7" stroke-linejoin="round" />
<path d="M725.6,464 L726,490 Q725,503 712,503 L706,503" fill="none" stroke="#333" stroke-width="0.7" stroke-linejoin="round" />
<path d="M733.7,505 Q734.5,510.2 741,510.4 L758,510.7 Q761.8,511 761.8,514 L761.8,517" fill="none" stroke="#333" stroke-width="0.6" stroke-linejoin="round" />
<path d="M489.5,467 Q488,486 498,489 L513,490" fill="none" stroke="#333" stroke-width="0.6" stroke-linejoin="round" />
<path d="M490,466 Q498,464 510,464.5" fill="none" stroke="#333" stroke-width="0.7" stroke-linejoin="round" />
<path d="M714,463.2 Q722,463.5 722,471 L722,486 Q722,495 712,495 L697,495" fill="none" stroke="#333" stroke-width="0.7" stroke-linejoin="round" />
<circle cx="500.3" cy="476.8" r="11" fill="none" stroke="#222" stroke-width="0.9"/>
<circle cx="500.3" cy="476.8" r="8.3" fill="none" stroke="#222" stroke-width="0.8"/>
<polygon points="507.3,476.8 503.8,482.86 496.8,482.86 493.3,476.8 496.8,470.74 503.8,470.74" fill="none" stroke="#222" stroke-width="0.8" stroke-linejoin="round" />
<circle cx="709.2" cy="476.3" r="11" fill="none" stroke="#222" stroke-width="0.9"/>
<circle cx="709.2" cy="476.3" r="8.3" fill="none" stroke="#222" stroke-width="0.8"/>
<polygon points="716.2,476.3 712.7,482.36 705.7,482.36 702.2,476.3 705.7,470.24 712.7,470.24" fill="none" stroke="#222" stroke-width="0.8" stroke-linejoin="round" />
<circle cx="522.4" cy="465" r="3" fill="#cfcfcf" stroke="#444" stroke-width="0.9"/>
<circle cx="539.1" cy="465" r="3" fill="#cfcfcf" stroke="#444" stroke-width="0.9"/>
<circle cx="559.3" cy="465" r="3" fill="#cfcfcf" stroke="#444" stroke-width="0.9"/>
<circle cx="576.1" cy="465" r="3" fill="#cfcfcf" stroke="#444" stroke-width="0.9"/>
<circle cx="596" cy="465" r="3" fill="#cfcfcf" stroke="#444" stroke-width="0.9"/>
<circle cx="612.6" cy="465" r="3" fill="#cfcfcf" stroke="#444" stroke-width="0.9"/>
<circle cx="649.6" cy="465" r="3" fill="#cfcfcf" stroke="#444" stroke-width="0.9"/>
<circle cx="670.5" cy="465" r="3" fill="#cfcfcf" stroke="#444" stroke-width="0.9"/>
<path d="M499.4,498.8 Q505,491.5 510,490.2 L708,490.2 L708,500 L499.4,500 Z" fill="#cfcfcf" stroke="none" stroke-width="1" stroke-linejoin="round" />
<polyline points="498,489.4 710,489.4" fill="none" stroke="#222" stroke-width="1" stroke-linejoin="round" stroke-linecap="round" />
<polyline points="508,495.4 700,495.4" fill="none" stroke="#222" stroke-width="0.9" stroke-linejoin="round" stroke-linecap="round" />
<path d="M505,497.5 L518.5,497.5 L518.5,503.5 Q511.75,501.5 505,503.5 Z" fill="#dde8e6" stroke="none" stroke-width="1" stroke-linejoin="round" />
<path d="M543.5,497.5 L556,497.5 L556,503.5 Q549.75,501.5 543.5,503.5 Z" fill="#dde8e6" stroke="none" stroke-width="1" stroke-linejoin="round" />
<path d="M581,497.5 L592,497.5 L592,503.5 Q586.5,501.5 581,503.5 Z" fill="#dde8e6" stroke="none" stroke-width="1" stroke-linejoin="round" />
<path d="M617,497.5 L629,497.5 L629,503.5 Q623.0,501.5 617,503.5 Z" fill="#dde8e6" stroke="none" stroke-width="1" stroke-linejoin="round" />
<path d="M654,497.5 L666.5,497.5 L666.5,503.5 Q660.25,501.5 654,503.5 Z" fill="#dde8e6" stroke="none" stroke-width="1" stroke-linejoin="round" />
<path d="M690.5,497.5 L704,497.5 L704,503.5 Q697.25,501.5 690.5,503.5 Z" fill="#dde8e6" stroke="none" stroke-width="1" stroke-linejoin="round" />
<path d="M499.4,498.8 Q510,499 518.5,503.6 L706,503.6" fill="none" stroke="#111" stroke-width="1.5" stroke-linejoin="round" />
<path d="M518.5,490.2 L543.5,490.2 L543.5,501.6 Q543.5,503.6 541.5,503.6 L520.5,503.6 Q518.5,503.6 518.5,501.6 Z" fill="#cbcbcb" stroke="#222" stroke-width="1" stroke-linejoin="round" />
<path d="M555.5,490.2 L580.5,490.2 L580.5,501.6 Q580.5,503.6 578.5,503.6 L557.5,503.6 Q555.5,503.6 555.5,501.6 Z" fill="#cbcbcb" stroke="#222" stroke-width="1" stroke-linejoin="round" />
<path d="M591.7,490.2 L616.7,490.2 L616.7,501.6 Q616.7,503.6 614.7,503.6 L593.7,503.6 Q591.7,503.6 591.7,501.6 Z" fill="#cbcbcb" stroke="#222" stroke-width="1" stroke-linejoin="round" />
<path d="M629,490.2 L654,490.2 L654,501.6 Q654,503.6 652,503.6 L631,503.6 Q629,503.6 629,501.6 Z" fill="#cbcbcb" stroke="#222" stroke-width="1" stroke-linejoin="round" />
<path d="M666.5,490.2 L691.5,490.2 L691.5,501.6 Q691.5,503.6 689.5,503.6 L668.5,503.6 Q666.5,503.6 666.5,501.6 Z" fill="#cbcbcb" stroke="#222" stroke-width="1" stroke-linejoin="round" />
<rect x="511.5" y="503.6" width="33.8" height="6.1" fill="#e2ebe9" stroke="#111" stroke-width="1.2"/>
<polyline points="517.0,503.6 517.0,509.7" fill="none" stroke="#667" stroke-width="0.5" stroke-linejoin="round" stroke-linecap="round" />
<polyline points="522.0,503.6 522.0,509.7" fill="none" stroke="#667" stroke-width="0.5" stroke-linejoin="round" stroke-linecap="round" />
<polyline points="535.0,503.6 535.0,509.7" fill="none" stroke="#667" stroke-width="0.5" stroke-linejoin="round" stroke-linecap="round" />
<polyline points="540.0,503.6 540.0,509.7" fill="none" stroke="#667" stroke-width="0.5" stroke-linejoin="round" stroke-linecap="round" />
<rect x="510.8" y="509.7" width="35.2" height="6.5" fill="#e4ecea" stroke="#111" stroke-width="1.2"/>
<polyline points="510.8,511.8 546.0,511.8" fill="none" stroke="#8a9694" stroke-width="1.2" stroke-linejoin="round" stroke-linecap="round" />
<circle cx="512.5" cy="512" r="1.1" fill="#111"/>
<circle cx="544.3" cy="512" r="1.1" fill="#111"/>
<rect x="515.4" y="516.2" width="26.6" height="14.8" fill="url(#gbody)" stroke="#111" stroke-width="1.3"/>
<polyline points="526.4,516.2 526.4,531" fill="none" stroke="#333" stroke-width="0.7" stroke-linejoin="round" stroke-linecap="round" />
<polyline points="530.3,516.2 530.3,531" fill="none" stroke="#333" stroke-width="0.7" stroke-linejoin="round" stroke-linecap="round" />
<rect x="520.6" y="531" width="16.2" height="3.4" fill="#dfe8e6" stroke="#111" stroke-width="1.2"/>
<rect x="563.0" y="503.6" width="33.8" height="6.1" fill="#e2ebe9" stroke="#111" stroke-width="1.2"/>
<polyline points="568.5,503.6 568.5,509.7" fill="none" stroke="#667" stroke-width="0.5" stroke-linejoin="round" stroke-linecap="round" />
<polyline points="573.5,503.6 573.5,509.7" fill="none" stroke="#667" stroke-width="0.5" stroke-linejoin="round" stroke-linecap="round" />
<polyline points="586.5,503.6 586.5,509.7" fill="none" stroke="#667" stroke-width="0.5" stroke-linejoin="round" stroke-linecap="round" />
<polyline points="591.5,503.6 591.5,509.7" fill="none" stroke="#667" stroke-width="0.5" stroke-linejoin="round" stroke-linecap="round" />
<rect x="562.3" y="509.7" width="35.2" height="6.5" fill="#e4ecea" stroke="#111" stroke-width="1.2"/>
<polyline points="562.3,511.8 597.5,511.8" fill="none" stroke="#8a9694" stroke-width="1.2" stroke-linejoin="round" stroke-linecap="round" />
<circle cx="564.0" cy="512" r="1.1" fill="#111"/>
<circle cx="595.8" cy="512" r="1.1" fill="#111"/>
<path d="M568.6,516.2 L591.4,516.2 L591.4,532 Q591.4,535 588.4,535 L571.6,535 Q568.6,535 568.6,532 Z" fill="url(#gbody)" stroke="#111" stroke-width="1.3" stroke-linejoin="round" />
<polyline points="568.6,519.5 575,519.5" fill="none" stroke="#555" stroke-width="0.7" stroke-linejoin="round" stroke-linecap="round" />
<polyline points="585,519.5 591.4,519.5" fill="none" stroke="#555" stroke-width="0.7" stroke-linejoin="round" stroke-linecap="round" />
<polyline points="568.6,522.5 575,522.5" fill="none" stroke="#555" stroke-width="0.7" stroke-linejoin="round" stroke-linecap="round" />
<polyline points="585,522.5 591.4,522.5" fill="none" stroke="#555" stroke-width="0.7" stroke-linejoin="round" stroke-linecap="round" />
<polyline points="568.6,525.5 575,525.5" fill="none" stroke="#555" stroke-width="0.7" stroke-linejoin="round" stroke-linecap="round" />
<polyline points="585,525.5 591.4,525.5" fill="none" stroke="#555" stroke-width="0.7" stroke-linejoin="round" stroke-linecap="round" />
<polyline points="568.6,528.5 575,528.5" fill="none" stroke="#555" stroke-width="0.7" stroke-linejoin="round" stroke-linecap="round" />
<polyline points="585,528.5 591.4,528.5" fill="none" stroke="#555" stroke-width="0.7" stroke-linejoin="round" stroke-linecap="round" />
<polyline points="568.6,531.5 575,531.5" fill="none" stroke="#555" stroke-width="0.7" stroke-linejoin="round" stroke-linecap="round" />
<polyline points="585,531.5 591.4,531.5" fill="none" stroke="#555" stroke-width="0.7" stroke-linejoin="round" stroke-linecap="round" />
<rect x="613.5" y="503.6" width="33.8" height="6.1" fill="#e2ebe9" stroke="#111" stroke-width="1.2"/>
<polyline points="619.0,503.6 619.0,509.7" fill="none" stroke="#667" stroke-width="0.5" stroke-linejoin="round" stroke-linecap="round" />
<polyline points="624.0,503.6 624.0,509.7" fill="none" stroke="#667" stroke-width="0.5" stroke-linejoin="round" stroke-linecap="round" />
<polyline points="637.0,503.6 637.0,509.7" fill="none" stroke="#667" stroke-width="0.5" stroke-linejoin="round" stroke-linecap="round" />
<polyline points="642.0,503.6 642.0,509.7" fill="none" stroke="#667" stroke-width="0.5" stroke-linejoin="round" stroke-linecap="round" />
<rect x="612.8" y="509.7" width="35.2" height="6.5" fill="#e4ecea" stroke="#111" stroke-width="1.2"/>
<polyline points="612.8,511.8 648.0,511.8" fill="none" stroke="#8a9694" stroke-width="1.2" stroke-linejoin="round" stroke-linecap="round" />
<circle cx="614.5" cy="512" r="1.1" fill="#111"/>
<circle cx="646.3" cy="512" r="1.1" fill="#111"/>
<path d="M619.1,516.2 L641.9,516.2 L641.9,532 Q641.9,535 638.9,535 L622.1,535 Q619.1,535 619.1,532 Z" fill="url(#gbody)" stroke="#111" stroke-width="1.3" stroke-linejoin="round" />
<polyline points="619.1,519.5 625.5,519.5" fill="none" stroke="#555" stroke-width="0.7" stroke-linejoin="round" stroke-linecap="round" />
<polyline points="635.5,519.5 641.9,519.5" fill="none" stroke="#555" stroke-width="0.7" stroke-linejoin="round" stroke-linecap="round" />
<polyline points="619.1,522.5 625.5,522.5" fill="none" stroke="#555" stroke-width="0.7" stroke-linejoin="round" stroke-linecap="round" />
<polyline points="635.5,522.5 641.9,522.5" fill="none" stroke="#555" stroke-width="0.7" stroke-linejoin="round" stroke-linecap="round" />
<polyline points="619.1,525.5 625.5,525.5" fill="none" stroke="#555" stroke-width="0.7" stroke-linejoin="round" stroke-linecap="round" />
<polyline points="635.5,525.5 641.9,525.5" fill="none" stroke="#555" stroke-width="0.7" stroke-linejoin="round" stroke-linecap="round" />
<polyline points="619.1,528.5 625.5,528.5" fill="none" stroke="#555" stroke-width="0.7" stroke-linejoin="round" stroke-linecap="round" />
<polyline points="635.5,528.5 641.9,528.5" fill="none" stroke="#555" stroke-width="0.7" stroke-linejoin="round" stroke-linecap="round" />
<polyline points="619.1,531.5 625.5,531.5" fill="none" stroke="#555" stroke-width="0.7" stroke-linejoin="round" stroke-linecap="round" />
<polyline points="635.5,531.5 641.9,531.5" fill="none" stroke="#555" stroke-width="0.7" stroke-linejoin="round" stroke-linecap="round" />
<rect x="665.0" y="503.6" width="33.8" height="6.1" fill="#e2ebe9" stroke="#111" stroke-width="1.2"/>
<polyline points="670.5,503.6 670.5,509.7" fill="none" stroke="#667" stroke-width="0.5" stroke-linejoin="round" stroke-linecap="round" />
<polyline points="675.5,503.6 675.5,509.7" fill="none" stroke="#667" stroke-width="0.5" stroke-linejoin="round" stroke-linecap="round" />
<polyline points="688.5,503.6 688.5,509.7" fill="none" stroke="#667" stroke-width="0.5" stroke-linejoin="round" stroke-linecap="round" />
<polyline points="693.5,503.6 693.5,509.7" fill="none" stroke="#667" stroke-width="0.5" stroke-linejoin="round" stroke-linecap="round" />
<rect x="664.3" y="509.7" width="35.2" height="6.5" fill="#e4ecea" stroke="#111" stroke-width="1.2"/>
<polyline points="664.3,511.8 699.5,511.8" fill="none" stroke="#8a9694" stroke-width="1.2" stroke-linejoin="round" stroke-linecap="round" />
<circle cx="666.0" cy="512" r="1.1" fill="#111"/>
<circle cx="697.8" cy="512" r="1.1" fill="#111"/>
<rect x="668.9" y="516.2" width="26.6" height="14.8" fill="url(#gbody)" stroke="#111" stroke-width="1.3"/>
<polyline points="679.9,516.2 679.9,531" fill="none" stroke="#333" stroke-width="0.7" stroke-linejoin="round" stroke-linecap="round" />
<polyline points="683.8,516.2 683.8,531" fill="none" stroke="#333" stroke-width="0.7" stroke-linejoin="round" stroke-linecap="round" />
<rect x="674.1" y="531" width="16.2" height="3.4" fill="#dfe8e6" stroke="#111" stroke-width="1.2"/>
</g>
<text x="508.1" y="551.8" font-family="Liberation Sans" font-size="14" fill="#1a1a1a">X2313</text>
<text x="558.9" y="551.8" font-family="Liberation Sans" font-size="14" fill="#1a1a1a">X1523</text>
<text x="610.4" y="551.8" font-family="Liberation Sans" font-size="14" fill="#1a1a1a">X5505</text>
<text x="661.5" y="551.8" font-family="Liberation Sans" font-size="14" fill="#1a1a1a">X5504</text>
<text x="661.5" y="567" font-family="Liberation Sans" font-size="14" fill="#1a1a1a">X2304</text>
<g transform="translate(0,121)">
<path d="M481,453.9 C485,453 490,452.6 495,453.2 C505,454.2 525,458.5 544.6,459.8 C560,460.6 585,456 623,455 C650,456 680,463 695,463.7 L731.4,464 Q734.3,464.5 734.3,467.5 L734.3,470 L762,470 Q768.7,470 768.7,476.5 L768.7,511 Q768.7,517.3 762,517.3 L717,517.3 Q711.4,517.3 711.4,511 L711,505 Q710,501 706,500 L700,499 L514.7,498.1 L501.3,499.2 L500.8,503.5 Q496,504 495.5,507 L494.4,512 Q494,517.3 489,517.3 L450.7,517.3 Q444.3,517.3 444.3,511 L444.3,503.5 Q444.3,498.7 449.6,498.7 L461.3,498.1 A6.1,6.1 0 0 0 461.3,485.9 L449.6,485.9 Q444.3,485.9 444.3,481 L444.3,477.9 Q444.3,469.9 451.7,469.9 L481,469.9 Z" fill="#cdcdcd" stroke="none" stroke-width="1" stroke-linejoin="round" />
<path d="M515.2,457 C525,458.6 535,459.4 544.6,459.8 C560,460.6 585,456 623,455 C650,456 680,463 694.5,463.7 L694.5,489.4 L515.2,489.4 Z" fill="#e3e3e3" stroke="none" stroke-width="1" stroke-linejoin="round" />
<polyline points="515.2,457 515.2,489.4" fill="none" stroke="#444" stroke-width="0.8" stroke-linejoin="round" stroke-linecap="round" />
<polyline points="694.5,463.7 694.5,489.4" fill="none" stroke="#444" stroke-width="0.8" stroke-linejoin="round" stroke-linecap="round" />
<path d="M481,453.9 C485,453 490,452.6 495,453.2 C505,454.2 525,458.5 544.6,459.8 C560,460.6 585,456 623,455 C650,456 680,463 695,463.7 L731.4,464 Q734.3,464.5 734.3,467.5 L734.3,470 " fill="none" stroke="#1a1a1a" stroke-width="1.2" stroke-linejoin="round" />
<path d="M734.3,470 L762,470 Q768.7,470 768.7,476.5 L768.7,511 Q768.7,517.3 762,517.3 L717,517.3 Q711.4,517.3 711.4,511 L711,505 Q710,501 706,500 L700,499 " fill="none" stroke="#111" stroke-width="1.8" stroke-linejoin="round" />
<path d="M700,499 L514.7,498.1 L501.3,499.2 L500.8,503.5 Q496,504 495.5,507 L494.4,512 Q494,517.3 489,517.3 L450.7,517.3 Q444.3,517.3 444.3,511 L444.3,503.5 Q444.3,498.7 449.6,498.7 L461.3,498.1 A6.1,6.1 0 0 0 461.3,485.9 L449.6,485.9 Q444.3,485.9 444.3,481 L444.3,477.9 Q444.3,469.9 451.7,469.9 L481,469.9" fill="none" stroke="#111" stroke-width="1.8" stroke-linejoin="round" />
<polyline points="481,453.9 481,469.9" fill="none" stroke="#111" stroke-width="2.2" stroke-linejoin="round" stroke-linecap="round" />
<path d="M732.3,479.7 C737,479.7 739.5,481.5 742,484 Q743.5,486 746,486 L752.5,486 A6.15,6.15 0 0 1 752.5,498.3 L746,498.3 Q743.5,498.3 742,500.5 C739.5,503.2 737,505 732.3,505 Z" fill="#fff" stroke="#111" stroke-width="1.8" stroke-linejoin="round" />
<path d="M483.2,456.5 L483.7,488.5 Q484.5,495 491,495 L516.8,495" fill="none" stroke="#222" stroke-width="0.8" stroke-linejoin="round" />
<path d="M475.7,471 L476.8,506.7 Q476.5,511 471,511 L455,511 Q451.7,511.3 451.7,514 L451.7,517" fill="none" stroke="#222" stroke-width="0.7" stroke-linejoin="round" />
<path d="M725.6,464 L726,490 Q725,503 712,503 L706,503" fill="none" stroke="#333" stroke-width="0.7" stroke-linejoin="round" />
<path d="M733.7,505 Q734.5,510.2 741,510.4 L758,510.7 Q761.8,511 761.8,514 L761.8,517" fill="none" stroke="#333" stroke-width="0.6" stroke-linejoin="round" />
<path d="M489.5,467 Q488,486 498,489 L513,490" fill="none" stroke="#333" stroke-width="0.6" stroke-linejoin="round" />
<path d="M490,466 Q498,464 510,464.5" fill="none" stroke="#333" stroke-width="0.7" stroke-linejoin="round" />
<path d="M714,463.2 Q722,463.5 722,471 L722,486 Q722,495 712,495 L697,495" fill="none" stroke="#333" stroke-width="0.7" stroke-linejoin="round" />
<circle cx="500.3" cy="476.8" r="11" fill="none" stroke="#222" stroke-width="0.9"/>
<circle cx="500.3" cy="476.8" r="8.3" fill="none" stroke="#222" stroke-width="0.8"/>
<polygon points="507.3,476.8 503.8,482.86 496.8,482.86 493.3,476.8 496.8,470.74 503.8,470.74" fill="none" stroke="#222" stroke-width="0.8" stroke-linejoin="round" />
<circle cx="709.2" cy="476.3" r="11" fill="none" stroke="#222" stroke-width="0.9"/>
<circle cx="709.2" cy="476.3" r="8.3" fill="none" stroke="#222" stroke-width="0.8"/>
<polygon points="716.2,476.3 712.7,482.36 705.7,482.36 702.2,476.3 705.7,470.24 712.7,470.24" fill="none" stroke="#222" stroke-width="0.8" stroke-linejoin="round" />
<circle cx="522.4" cy="465" r="3" fill="#cfcfcf" stroke="#444" stroke-width="0.9"/>
<circle cx="539.1" cy="465" r="3" fill="#cfcfcf" stroke="#444" stroke-width="0.9"/>
<circle cx="559.3" cy="465" r="3" fill="#cfcfcf" stroke="#444" stroke-width="0.9"/>
<circle cx="576.1" cy="465" r="3" fill="#cfcfcf" stroke="#444" stroke-width="0.9"/>
<circle cx="596" cy="465" r="3" fill="#cfcfcf" stroke="#444" stroke-width="0.9"/>
<circle cx="612.6" cy="465" r="3" fill="#cfcfcf" stroke="#444" stroke-width="0.9"/>
<circle cx="649.6" cy="465" r="3" fill="#cfcfcf" stroke="#444" stroke-width="0.9"/>
<circle cx="670.5" cy="465" r="3" fill="#cfcfcf" stroke="#444" stroke-width="0.9"/>
<path d="M499.4,498.8 Q505,491.5 510,490.2 L708,490.2 L708,500 L499.4,500 Z" fill="#cfcfcf" stroke="none" stroke-width="1" stroke-linejoin="round" />
<polyline points="498,489.4 710,489.4" fill="none" stroke="#222" stroke-width="1" stroke-linejoin="round" stroke-linecap="round" />
<polyline points="508,495.4 700,495.4" fill="none" stroke="#222" stroke-width="0.9" stroke-linejoin="round" stroke-linecap="round" />
<path d="M505,497.5 L518.5,497.5 L518.5,503.5 Q511.75,501.5 505,503.5 Z" fill="#dde8e6" stroke="none" stroke-width="1" stroke-linejoin="round" />
<path d="M543.5,497.5 L556,497.5 L556,503.5 Q549.75,501.5 543.5,503.5 Z" fill="#dde8e6" stroke="none" stroke-width="1" stroke-linejoin="round" />
<path d="M581,497.5 L592,497.5 L592,503.5 Q586.5,501.5 581,503.5 Z" fill="#dde8e6" stroke="none" stroke-width="1" stroke-linejoin="round" />
<path d="M617,497.5 L629,497.5 L629,503.5 Q623.0,501.5 617,503.5 Z" fill="#dde8e6" stroke="none" stroke-width="1" stroke-linejoin="round" />
<path d="M654,497.5 L666.5,497.5 L666.5,503.5 Q660.25,501.5 654,503.5 Z" fill="#dde8e6" stroke="none" stroke-width="1" stroke-linejoin="round" />
<path d="M690.5,497.5 L704,497.5 L704,503.5 Q697.25,501.5 690.5,503.5 Z" fill="#dde8e6" stroke="none" stroke-width="1" stroke-linejoin="round" />
<path d="M499.4,498.8 Q510,499 518.5,503.6 L706,503.6" fill="none" stroke="#111" stroke-width="1.5" stroke-linejoin="round" />
<path d="M518.5,490.2 L543.5,490.2 L543.5,501.6 Q543.5,503.6 541.5,503.6 L520.5,503.6 Q518.5,503.6 518.5,501.6 Z" fill="#cbcbcb" stroke="#222" stroke-width="1" stroke-linejoin="round" />
<path d="M555.5,490.2 L580.5,490.2 L580.5,501.6 Q580.5,503.6 578.5,503.6 L557.5,503.6 Q555.5,503.6 555.5,501.6 Z" fill="#cbcbcb" stroke="#222" stroke-width="1" stroke-linejoin="round" />
<path d="M591.7,490.2 L616.7,490.2 L616.7,501.6 Q616.7,503.6 614.7,503.6 L593.7,503.6 Q591.7,503.6 591.7,501.6 Z" fill="#cbcbcb" stroke="#222" stroke-width="1" stroke-linejoin="round" />
<path d="M629,490.2 L654,490.2 L654,501.6 Q654,503.6 652,503.6 L631,503.6 Q629,503.6 629,501.6 Z" fill="#cbcbcb" stroke="#222" stroke-width="1" stroke-linejoin="round" />
<path d="M666.5,490.2 L691.5,490.2 L691.5,501.6 Q691.5,503.6 689.5,503.6 L668.5,503.6 Q666.5,503.6 666.5,501.6 Z" fill="#cbcbcb" stroke="#222" stroke-width="1" stroke-linejoin="round" />
<rect x="511.5" y="503.6" width="33.8" height="6.1" fill="#e2ebe9" stroke="#111" stroke-width="1.2"/>
<polyline points="517.0,503.6 517.0,509.7" fill="none" stroke="#667" stroke-width="0.5" stroke-linejoin="round" stroke-linecap="round" />
<polyline points="522.0,503.6 522.0,509.7" fill="none" stroke="#667" stroke-width="0.5" stroke-linejoin="round" stroke-linecap="round" />
<polyline points="535.0,503.6 535.0,509.7" fill="none" stroke="#667" stroke-width="0.5" stroke-linejoin="round" stroke-linecap="round" />
<polyline points="540.0,503.6 540.0,509.7" fill="none" stroke="#667" stroke-width="0.5" stroke-linejoin="round" stroke-linecap="round" />
<rect x="510.8" y="509.7" width="35.2" height="6.5" fill="#e4ecea" stroke="#111" stroke-width="1.2"/>
<polyline points="510.8,511.8 546.0,511.8" fill="none" stroke="#8a9694" stroke-width="1.2" stroke-linejoin="round" stroke-linecap="round" />
<circle cx="512.5" cy="512" r="1.1" fill="#111"/>
<circle cx="544.3" cy="512" r="1.1" fill="#111"/>
<rect x="515.4" y="516.2" width="26.6" height="14.8" fill="url(#gbody)" stroke="#111" stroke-width="1.3"/>
<polyline points="526.4,516.2 526.4,531" fill="none" stroke="#333" stroke-width="0.7" stroke-linejoin="round" stroke-linecap="round" />
<polyline points="530.3,516.2 530.3,531" fill="none" stroke="#333" stroke-width="0.7" stroke-linejoin="round" stroke-linecap="round" />
<rect x="520.6" y="531" width="16.2" height="3.4" fill="#dfe8e6" stroke="#111" stroke-width="1.2"/>
<rect x="563.0" y="503.6" width="33.8" height="6.1" fill="#e2ebe9" stroke="#111" stroke-width="1.2"/>
<polyline points="568.5,503.6 568.5,509.7" fill="none" stroke="#667" stroke-width="0.5" stroke-linejoin="round" stroke-linecap="round" />
<polyline points="573.5,503.6 573.5,509.7" fill="none" stroke="#667" stroke-width="0.5" stroke-linejoin="round" stroke-linecap="round" />
<polyline points="586.5,503.6 586.5,509.7" fill="none" stroke="#667" stroke-width="0.5" stroke-linejoin="round" stroke-linecap="round" />
<polyline points="591.5,503.6 591.5,509.7" fill="none" stroke="#667" stroke-width="0.5" stroke-linejoin="round" stroke-linecap="round" />
<rect x="562.3" y="509.7" width="35.2" height="6.5" fill="#e4ecea" stroke="#111" stroke-width="1.2"/>
<polyline points="562.3,511.8 597.5,511.8" fill="none" stroke="#8a9694" stroke-width="1.2" stroke-linejoin="round" stroke-linecap="round" />
<circle cx="564.0" cy="512" r="1.1" fill="#111"/>
<circle cx="595.8" cy="512" r="1.1" fill="#111"/>
<rect x="566.9" y="516.2" width="26.6" height="14.8" fill="url(#gbody)" stroke="#111" stroke-width="1.3"/>
<polyline points="577.9,516.2 577.9,531" fill="none" stroke="#333" stroke-width="0.7" stroke-linejoin="round" stroke-linecap="round" />
<polyline points="581.8,516.2 581.8,531" fill="none" stroke="#333" stroke-width="0.7" stroke-linejoin="round" stroke-linecap="round" />
<rect x="572.1" y="531" width="16.2" height="3.4" fill="#dfe8e6" stroke="#111" stroke-width="1.2"/>
<rect x="613.5" y="503.6" width="33.8" height="6.1" fill="#e2ebe9" stroke="#111" stroke-width="1.2"/>
<polyline points="619.0,503.6 619.0,509.7" fill="none" stroke="#667" stroke-width="0.5" stroke-linejoin="round" stroke-linecap="round" />
<polyline points="624.0,503.6 624.0,509.7" fill="none" stroke="#667" stroke-width="0.5" stroke-linejoin="round" stroke-linecap="round" />
<polyline points="637.0,503.6 637.0,509.7" fill="none" stroke="#667" stroke-width="0.5" stroke-linejoin="round" stroke-linecap="round" />
<polyline points="642.0,503.6 642.0,509.7" fill="none" stroke="#667" stroke-width="0.5" stroke-linejoin="round" stroke-linecap="round" />
<rect x="612.8" y="509.7" width="35.2" height="6.5" fill="#e4ecea" stroke="#111" stroke-width="1.2"/>
<polyline points="612.8,511.8 648.0,511.8" fill="none" stroke="#8a9694" stroke-width="1.2" stroke-linejoin="round" stroke-linecap="round" />
<circle cx="614.5" cy="512" r="1.1" fill="#111"/>
<circle cx="646.3" cy="512" r="1.1" fill="#111"/>
<rect x="617.4" y="516.2" width="26.6" height="14.8" fill="url(#gbody)" stroke="#111" stroke-width="1.3"/>
<polyline points="628.4,516.2 628.4,531" fill="none" stroke="#333" stroke-width="0.7" stroke-linejoin="round" stroke-linecap="round" />
<polyline points="632.3,516.2 632.3,531" fill="none" stroke="#333" stroke-width="0.7" stroke-linejoin="round" stroke-linecap="round" />
<rect x="622.6" y="531" width="16.2" height="3.4" fill="#dfe8e6" stroke="#111" stroke-width="1.2"/>
</g>
<text x="482.4" y="671" font-family="Liberation Sans" font-size="14" fill="#1a1a1a">X5004_1</text>
<text x="553.4" y="671" font-family="Liberation Sans" font-size="14" fill="#1a1a1a">X5004_2</text>
<text x="620.4" y="671" font-family="Liberation Sans" font-size="14" fill="#1a1a1a">X5004_3</text>
<circle cx="604.3" cy="61" r="18.15" fill="#fff" stroke="#000" stroke-width="2.1"/>
<text x="604.3" y="68.2" text-anchor="middle" font-family="Liberation Sans" font-weight="bold" font-size="18.5" fill="#000">1</text>
<circle cx="508.5" cy="205" r="18.15" fill="#fff" stroke="#000" stroke-width="2.1"/>
<text x="508.5" y="211.3" text-anchor="middle" font-family="Liberation Sans" font-weight="bold" font-size="18.5" fill="#000">X</text>
<circle cx="699" cy="204.8" r="18.15" fill="#fff" stroke="#000" stroke-width="2.1"/>
<text x="699.8" y="211.2" text-anchor="middle" font-family="Liberation Sans" font-weight="bold" font-size="18.5" fill="#000">2</text>
<circle cx="604.5" cy="363.5" r="18.15" fill="#fff" stroke="#000" stroke-width="2.1"/>
<text x="604.5" y="370.5" text-anchor="middle" font-family="Liberation Sans" font-weight="bold" font-size="18.5" fill="#000">3</text>
</svg>
</body></html>
